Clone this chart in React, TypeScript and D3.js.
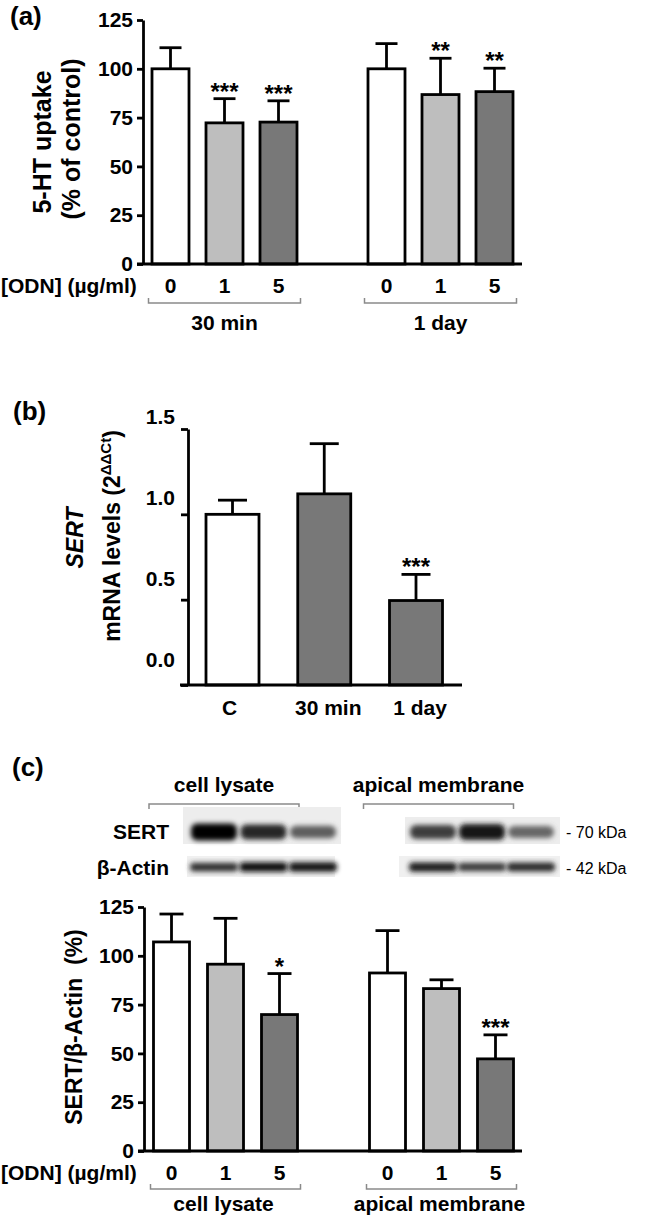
import * as d3 from "d3";
import { useRef, useEffect } from "react";

// panel (a) 5-HT uptake
const doses = ["0", "1", "5"];
const uptakeGroups = ["30 min", "1 day"];
const uptakeMean = [100, 72.3, 72.7, 100, 86.8, 88.3];
const uptakeSem = [10.8, 12.4, 10.9, 12.9, 18.6, 12.0];
const uptakeStars = ["", "***", "***", "", "**", "**"];

// panel (b) SERT mRNA
const mrnaCats = ["C", "30 min", "1 day"];
const mrnaMean = [1.0, 1.12, 0.495];
const mrnaSem = [0.083, 0.294, 0.153];
const mrnaStars = ["", "", "***"];

// panel (c) western blot + densitometry
const blotGroups = ["cell lysate", "apical membrane"];
const sertBand = [1.0, 0.8, 0.55, 0.7, 0.88, 0.5];
const actinBand = [0.75, 0.92, 0.9, 0.85, 0.72, 0.78];
const ratioMean = [107.1, 95.7, 69.9, 91.2, 83.2, 47.2];
const ratioSem = [14.3, 23.5, 21.0, 21.7, 4.5, 12.3];
const ratioStars = ["", "", "*", "", "", "***"];

const pctTicks = [0, 25, 50, 75, 100, 125];
const mrnaTicks = [0, 0.5, 1.0, 1.5];
const slots = [0, 1, 2, 4, 5, 6];
const doseFill = ["#ffffff", "#bebebe", "#787878"];

const FONT = "'Liberation Sans', Arial, sans-serif";
const SW = 2.8;

const styleAxis = (g, size = 21) => {
    g.select(".domain").attr("stroke", "#000").attr("stroke-width", SW);
    g.selectAll(".tick line").attr("stroke", "#000").attr("stroke-width", SW);
    g.selectAll(".tick text")
        .attr("fill", "#000")
        .attr("font-size", size)
        .attr("font-weight", "bold")
        .attr("font-family", FONT);
};

const drawBars = (g, x, y, means, sems, stars, fills, barW, capW) => {
    means.forEach((m, i) => {
        const cx = x(i);
        const top = m + sems[i];
        g.append("line")
            .attr("x1", cx).attr("x2", cx)
            .attr("y1", y(m)).attr("y2", y(top))
            .attr("stroke", "#000").attr("stroke-width", SW);
        g.append("line")
            .attr("x1", cx - capW / 2).attr("x2", cx + capW / 2)
            .attr("y1", y(top)).attr("y2", y(top))
            .attr("stroke", "#000").attr("stroke-width", SW);
        g.append("rect")
            .attr("x", cx - barW / 2)
            .attr("y", y(m))
            .attr("width", barW)
            .attr("height", y(0) - y(m))
            .attr("fill", fills[i])
            .attr("stroke", "#000")
            .attr("stroke-width", SW);
        if (stars[i]) {
            g.append("text")
                .attr("x", cx)
                .attr("y", y(top) + 1)
                .attr("text-anchor", "middle")
                .attr("font-size", 24)
                .attr("font-weight", "bold")
                .attr("font-family", FONT)
                .text(stars[i]);
        }
    });
};

const label = (g, x, y, txt, opts = {}) => {
    const t = g.append("text")
        .attr("x", x)
        .attr("y", y)
        .attr("font-family", FONT)
        .attr("font-weight", opts.weight || "bold")
        .attr("font-size", opts.size || 21)
        .attr("text-anchor", opts.anchor || "middle")
        .text(txt);
    if (opts.rotate) t.attr("transform", `rotate(-90, ${x}, ${y})`);
    if (opts.italic) t.attr("font-style", "italic");
    return t;
};

const bracket = (g, x1, x2, y, dir) => {
    g.append("path")
        .attr("d", `M${x1},${y + dir * 5}V${y}H${x2}V${y + dir * 5}`)
        .attr("fill", "none")
        .attr("stroke", "#8a8a8a")
        .attr("stroke-width", 1.5);
};

const Figure = () => {
    const svgRef = useRef();

    useEffect(() => {
        const svg = d3.select(svgRef.current);
        svg.selectAll("*").remove();

        const defs = svg.append("defs");
        defs.append("filter").attr("id", "bandBlur")
            .attr("x", "-20%").attr("y", "-50%").attr("width", "140%").attr("height", "200%")
            .append("feGaussianBlur").attr("stdDeviation", 2.4);

        // ---------- (a)
        const ga = svg.append("g");
        const ya = d3.scaleLinear().domain([0, 125]).range([264, 20]);
        const xa = d3.scaleLinear().domain([0, 6]).range([170.5, 494.5]);
        ga.append("g")
            .attr("transform", "translate(143,0)")
            .call(d3.axisLeft(ya).tickValues(pctTicks).tickSize(6).tickSizeOuter(0).tickPadding(4))
            .call(styleAxis);
        drawBars(ga, (i) => xa(slots[i]), ya, uptakeMean, uptakeSem, uptakeStars,
            slots.map((s, i) => doseFill[i % 3]), 37, 22);
        ga.append("line").attr("x1", 137).attr("x2", 522)
            .attr("y1", ya(0)).attr("y2", ya(0))
            .attr("stroke", "#000").attr("stroke-width", SW);
        label(ga, 10, 25, "(a)", { anchor: "start", size: 26 });
        label(ga, 51, 142, "5-HT uptake", { rotate: true, size: 25 });
        label(ga, 80, 139, "(% of control)", { rotate: true, size: 25 });
        label(ga, 1, 293, "[ODN] (µg/ml)", { anchor: "start" });
        slots.forEach((s, i) => label(ga, xa(s), 293, doses[i % 3]));
        uptakeGroups.forEach((grp, k) => {
            const cx = xa(k * 4 + 1);
            bracket(ga, cx - 76, cx + 76, 303, -1);
            label(ga, cx, 330, grp);
        });

        // ---------- (b)
        const gb = svg.append("g");
        const yb = d3.scaleLinear().domain([0, 1.5]).range([685, 429]);
        const ybText = d3.scaleLinear().domain([0, 1.5]).range([660, 417]);
        const xb = d3.scaleLinear().domain([0, 2]).range([232.5, 416]);
        gb.append("g")
            .attr("transform", "translate(188,0)")
            .call(d3.axisLeft(yb).tickValues(mrnaTicks).tickFormat(d3.format(".1f"))
                .tickSize(7).tickSizeOuter(0).tickPadding(6))
            .call(styleAxis)
            .selectAll(".tick text")
            .attr("y", (d) => ybText(d) - yb(d));
        drawBars(gb, xb, yb, mrnaMean, mrnaSem, mrnaStars,
            ["#ffffff", "#787878", "#787878"], 53, 29);
        gb.append("line").attr("x1", 180).attr("x2", 462)
            .attr("y1", yb(0)).attr("y2", yb(0))
            .attr("stroke", "#000").attr("stroke-width", SW);
        mrnaCats.forEach((c, i) => label(gb, xb(i) + (i ? 4 : -3), 715, c));
        label(gb, 13, 420, "(b)", { anchor: "start", size: 26 });
        label(gb, 83, 538, "SERT", { rotate: true, size: 23, italic: true });
        const ml = label(gb, 120, 536, "mRNA levels (2", { rotate: true, size: 23 });
        ml.append("tspan").attr("dy", -9).attr("font-size", 15).text("ΔΔCt");
        ml.append("tspan").attr("dy", 9).text(")");

        // ---------- (c) blot
        const gc = svg.append("g");
        label(gc, 12, 776, "(c)", { anchor: "start", size: 26 });
        const gelX = [d3.scaleLinear().domain([0, 2]).range([214, 313]),
            d3.scaleLinear().domain([0, 2]).range([433, 531])];
        blotGroups.forEach((grp, k) => {
            const cx = k === 0 ? 224 : 438.5;
            label(gc, cx, 792, grp);
            bracket(gc, cx - 75, cx + 75, 804, 1);
        });
        // gel backgrounds
        gc.append("rect").attr("x", 183).attr("y", 807).attr("width", 158).attr("height", 37).attr("fill", "#ededed");
        gc.append("rect").attr("x", 405).attr("y", 817).attr("width", 155).attr("height", 27).attr("fill", "#ededed");
        gc.append("rect").attr("x", 187).attr("y", 856).attr("width", 148).attr("height", 21).attr("fill", "#f0f0f0");
        gc.append("rect").attr("x", 399).attr("y", 856).attr("width", 161).attr("height", 21).attr("fill", "#f0f0f0");
        sertBand.forEach((v, i) => {
            const cx = gelX[Math.floor(i / 3)](i % 3);
            const h = 7 + 10 * v;
            gc.append("rect")
                .attr("x", cx - 23).attr("y", 832 - h / 2)
                .attr("width", 46).attr("height", h)
                .attr("rx", 6)
                .attr("fill", d3.interpolateGreys(0.35 + 0.65 * v))
                .attr("filter", "url(#bandBlur)");
        });
        actinBand.forEach((v, i) => {
            const cx = gelX[Math.floor(i / 3)](i % 3);
            const h = 5 + 5 * v;
            gc.append("rect")
                .attr("x", cx - 24).attr("y", 867 - h / 2)
                .attr("width", 48).attr("height", h)
                .attr("rx", 4)
                .attr("fill", d3.interpolateGreys(0.35 + 0.65 * v))
                .attr("filter", "url(#bandBlur)");
        });
        label(gc, 169, 839, "SERT", { anchor: "end" });
        label(gc, 169, 875, "β-Actin", { anchor: "end" });
        label(gc, 566, 838, "- 70 kDa", { anchor: "start", size: 16, weight: "normal" });
        label(gc, 566, 874, "- 42 kDa", { anchor: "start", size: 16, weight: "normal" });

        // ---------- (c) chart
        const yc = d3.scaleLinear().domain([0, 125]).range([1151, 907]);
        const xc = d3.scaleLinear().domain([0, 6]).range([171.5, 495.5]);
        gc.append("g")
            .attr("transform", "translate(144,0)")
            .call(d3.axisLeft(yc).tickValues(pctTicks).tickSize(6).tickSizeOuter(0).tickPadding(4))
            .call(styleAxis);
        drawBars(gc, (i) => xc(slots[i]), yc, ratioMean, ratioSem, ratioStars,
            slots.map((s, i) => doseFill[i % 3]), 36, 24);
        gc.append("line").attr("x1", 138).attr("x2", 522)
            .attr("y1", yc(0)).attr("y2", yc(0))
            .attr("stroke", "#000").attr("stroke-width", SW);
        label(gc, 82, 1027, "SERT/β-Actin\u00a0\u00a0(%)", { rotate: true, size: 23 });
        label(gc, 1, 1180, "[ODN] (µg/ml)", { anchor: "start" });
        slots.forEach((s, i) => label(gc, xc(s), 1180, doses[i % 3]));
        blotGroups.forEach((grp, k) => {
            const cx = xc(k * 4 + 1);
            bracket(gc, cx - 75, cx + 75, 1189, -1);
            label(gc, cx - 2, 1211, grp);
        });
    }, []);

    return (
        <svg
            ref={svgRef}
            width={645}
            height={1217}
            style={{ position: "absolute", left: 0, top: 0, background: "#fff" }}
        />
    );
};

export default function App() {
    return <Figure />;
}
